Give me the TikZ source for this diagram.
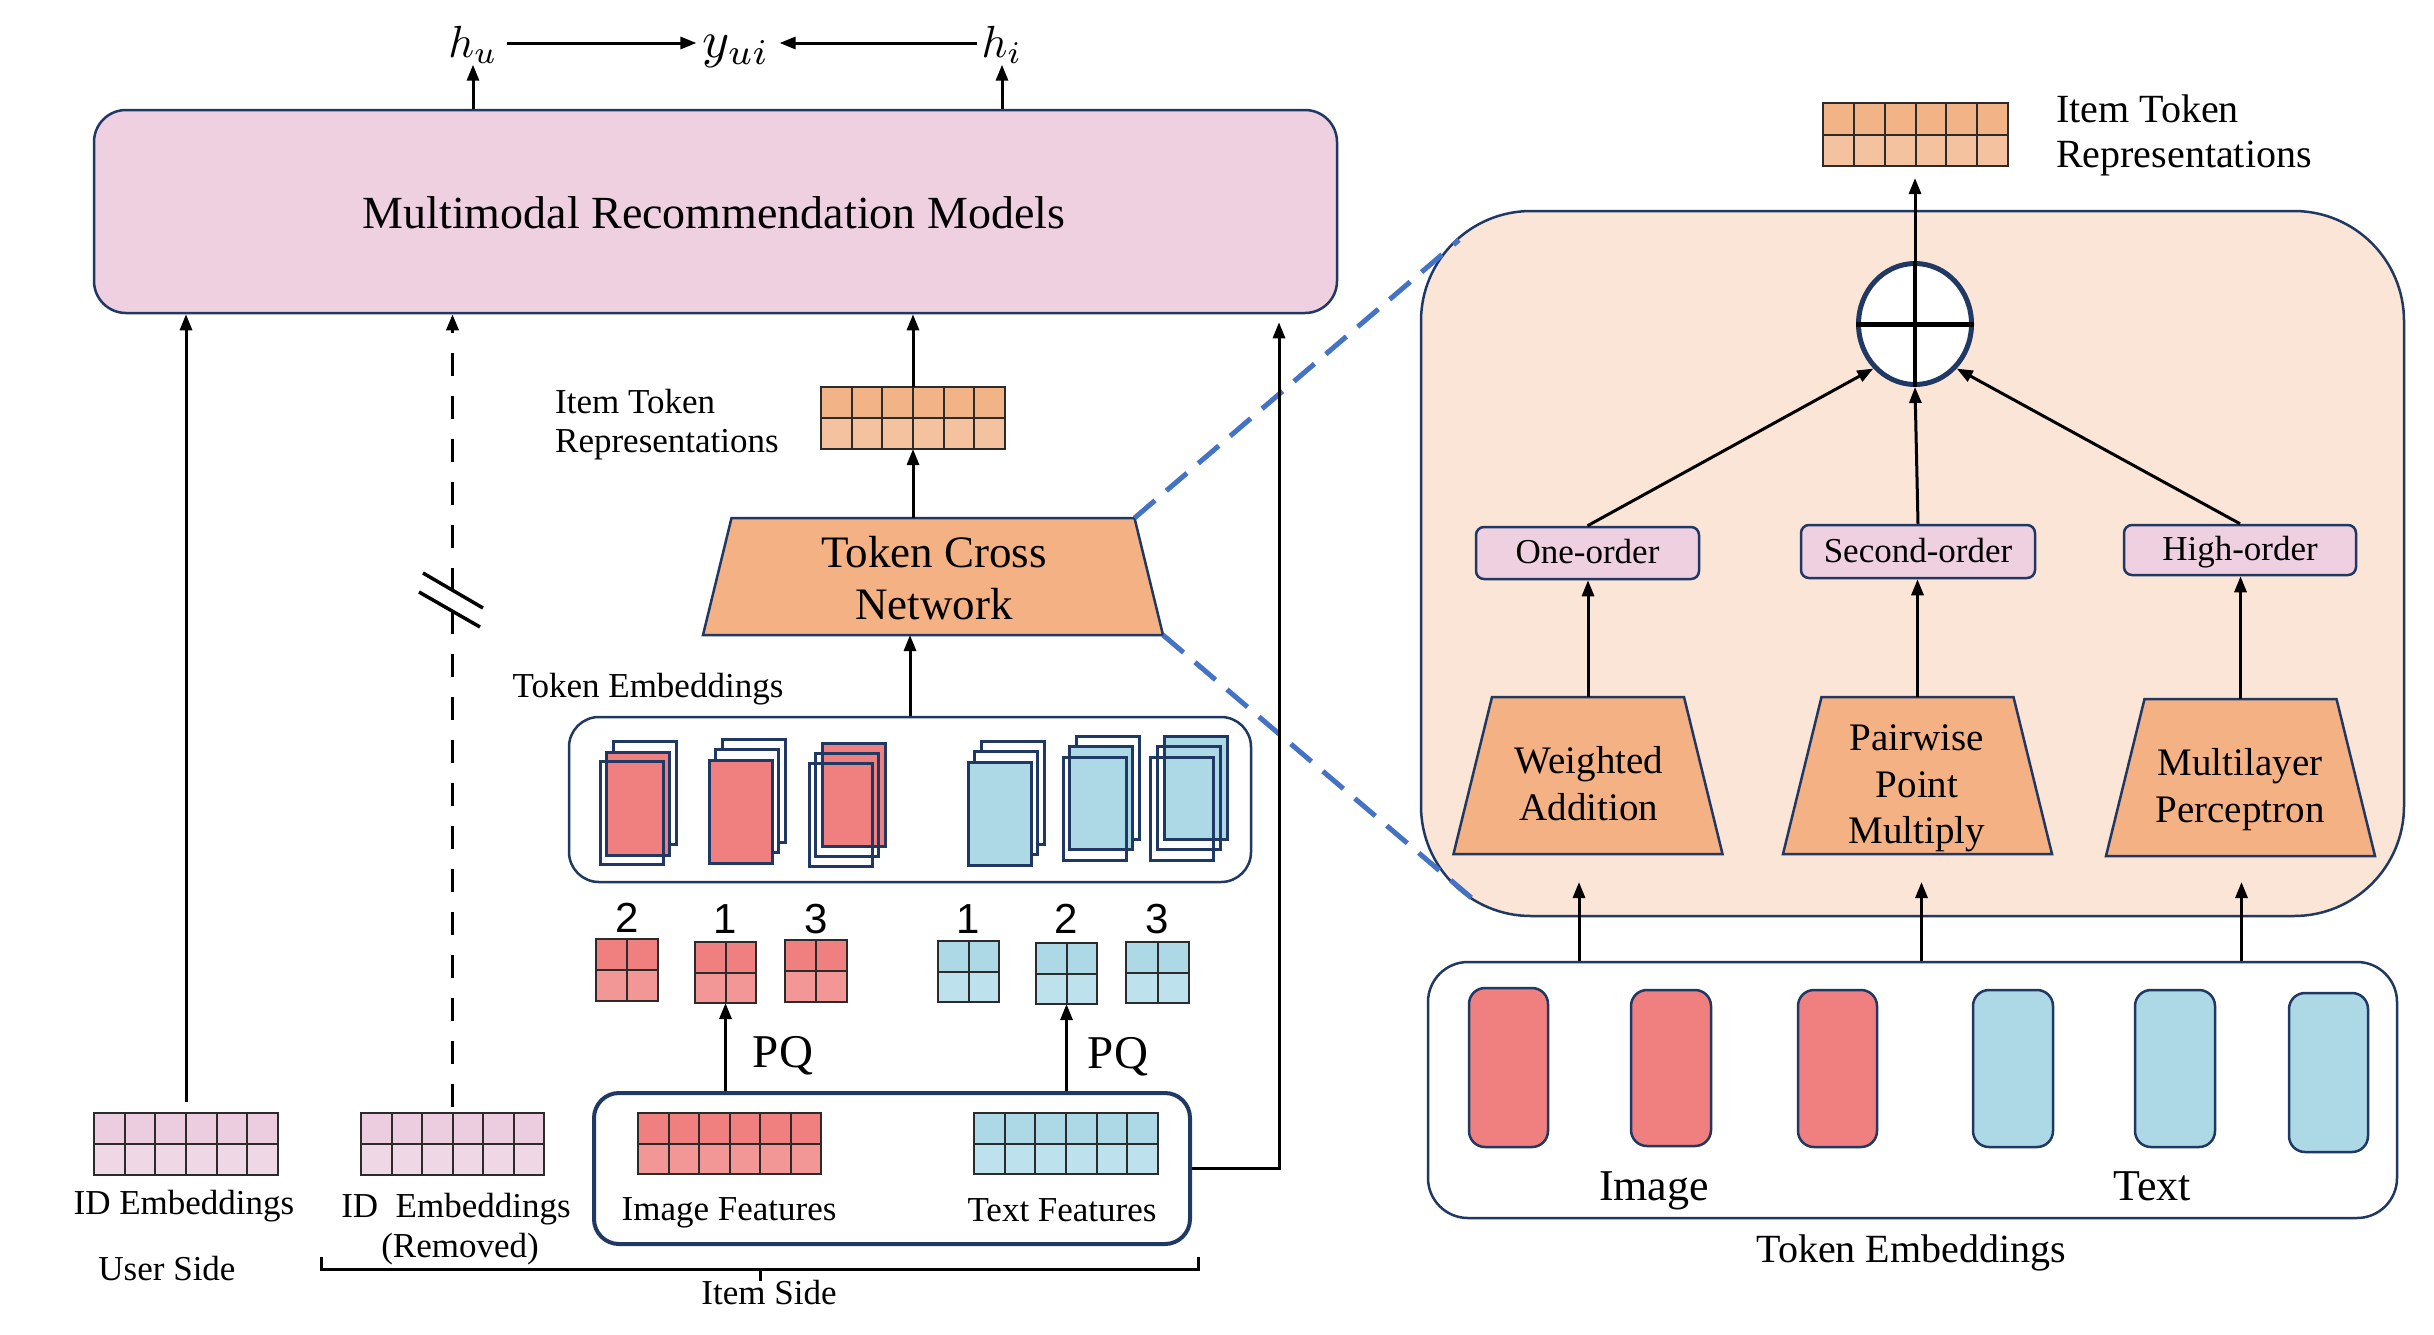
\documentclass[tikz,border=0pt]{standalone}
\usepackage{fontspec}
\setmainfont{Liberation Serif}
\newfontfamily\digitfont{Liberation Sans}
\usetikzlibrary{arrows.meta,calc,fit,shapes.geometric}
\definecolor{navy}{HTML}{1F3864}
\definecolor{pinkbox}{HTML}{EFD0E1}
\definecolor{orangeT}{HTML}{F4B183}
\definecolor{peach}{HTML}{FBE5D6}
\definecolor{redT}{HTML}{F08080}
\definecolor{redL}{HTML}{F29696}
\definecolor{blueT}{HTML}{ADD8E6}
\definecolor{blueL}{HTML}{BDE1ED}
\definecolor{pinkT}{HTML}{ECCDE0}
\definecolor{pinkL}{HTML}{F0D7E6}
\definecolor{orangeG}{HTML}{F2B387}
\definecolor{orangeL}{HTML}{F5C29F}
\definecolor{dashblue}{HTML}{4472C4}
\definecolor{gridc}{HTML}{2B2B2B}
\newcommand\fz[1]{\fontsize{#1}{#1}\selectfont}
\tikzset{
  arr/.style={-{Triangle[length=16pt,width=12pt]}, line width=3pt, black},
  gridline/.style={gridc, line width=2pt},
  boxline/.style={draw=navy, line width=2.5pt},
  cardline/.style={draw=navy, line width=3pt},
  lbl/.style={inner sep=0pt, anchor=base, font=\fz{35}},
  digit/.style={inner sep=0pt, anchor=base, font=\digitfont\fz{42}},
  mathlbl/.style={inner sep=0pt, anchor=base, scale=4.5},
  ordbox/.style={draw=navy, line width=2.5pt, fill=pinkbox, rounded corners=8pt, inner sep=0pt, font=\fz{35}, text height=24pt, text depth=3pt},
  tok/.style={draw=navy, line width=2.5pt, rounded corners=16pt},
}
% six-column, two-row grid
\newcommand\sixgrid[7]{%
  \coordinate (#1-a) at (#2,#3);
  \coordinate (#1-b) at (#4,#5);
  \node[fit=(#1-a)(#1-b), inner sep=0pt, outer sep=0pt] (#1) {};
  \fill[#6] (#1.north west) rectangle (#1.east);
  \fill[#7] (#1.west) rectangle (#1.south east);
  \foreach \k in {1,...,5}{%
    \draw[gridline] ($(#1.north west)!\k/6!(#1.north east)$) -- ($(#1.south west)!\k/6!(#1.south east)$);}
  \draw[gridline] (#1.west) -- (#1.east);
  \draw[gridline] (#1.north west) rectangle (#1.south east);
}
% two-by-two grid
\newcommand\fourgrid[7]{%
  \coordinate (#1-a) at (#2,#3);
  \coordinate (#1-b) at (#4,#5);
  \node[fit=(#1-a)(#1-b), inner sep=0pt, outer sep=0pt] (#1) {};
  \fill[#6] (#1.north west) rectangle (#1.east);
  \fill[#7] (#1.west) rectangle (#1.south east);
  \draw[gridline] (#1.north) -- (#1.south);
  \draw[gridline] (#1.west) -- (#1.east);
  \draw[gridline] (#1.north west) rectangle (#1.south east);
}
\newcommand\card[3]{\draw[cardline,#3] (#1,#2) rectangle ++(63,103);}
% trapezoid: name, cx, ytop, ybot, half top, half bottom
\newcommand\trap[6]{%
  \coordinate (#1-a) at ({#2-#6},#3);
  \coordinate (#1-b) at ({#2+#6},#4);
  \coordinate (#1-tr) at ({#2+#5},#3);
  \coordinate (#1-br) at ({#2+#6},#4);
  \node[fit=(#1-a)(#1-b), inner sep=0pt, outer sep=0pt] (#1) {};
  \draw[boxline, fill=orangeT] ({#2-#6},#4) -- ({#2+#6},#4) -- ({#2+#5},#3) -- ({#2-#5},#3) -- cycle;
}
\begin{document}
\begin{tikzpicture}[x=1pt,y=-1pt]
\useasboundingbox[fill=white] (0,0) rectangle (2434,1334);

% ---------- main model box ----------
\node[boxline, fill=pinkbox, rounded corners=32pt, minimum width=1243pt, minimum height=203pt, inner sep=0pt] (mrm) at (715.5,211.5) {};
\node[lbl, font=\fz{46}] (mrmt) at (714,228) {Multimodal Recommendation Models};

% ---------- top outputs ----------
\node[mathlbl] (hu) at (473,57) {$h_u$};
\node[mathlbl, scale=1.15] (yui) at (736,57) {$y_{ui}$};
\node[mathlbl] (hi) at (1002,57) {$h_i$};
\coordinate (arow) at (0,43);
\draw[arr] ($(hu.east |- arow)+(8,0)$) -- ($(yui.west |- arow)+(-5,0)$);
\draw[arr] ($(hi.west |- arow)+(-4,0)$) -- ($(yui.east |- arow)+(9,0)$);
\draw[arr] (hu.south |- mrm.north) -- (hu.south);
\draw[arr] (hi.south |- mrm.north) -- (hi.south);

% ---------- user side ----------
\sixgrid{uid}{94}{1113}{278}{1175}{pinkT}{pinkL}
\draw[arr, shorten <=11pt] (uid.north) -- (uid.north |- mrm.south);
\node[lbl] (uidt) at (184,1214) {ID Embeddings};
\node[lbl] (usert) at (167,1280) {User Side};

% ---------- removed ID embeddings ----------
\sixgrid{rid}{361}{1113}{544}{1175}{pinkT}{pinkL}
\draw[arr, dash pattern=on 23pt off 20pt, line width=3.5pt, shorten <=6pt] (rid.north) -- (rid.north |- mrm.south);
\coordinate (sl1a) at (423,573); \coordinate (sl1b) at (483,608);
\coordinate (sl2a) at (419,592); \coordinate (sl2b) at (480,627);
\draw[line width=3.5pt] (sl1a) -- (sl1b);
\draw[line width=3.5pt] (sl2a) -- (sl2b);
\node[lbl] (ridt) at (456,1217) {ID\ \ Embeddings};
\node[lbl] (ridr) at (460,1257) {(Removed)};

% ---------- item side brace ----------
\coordinate (brL) at (321,1257); \coordinate (brR) at (1198,1257);
\coordinate (brM) at (760,1269);
\draw[line width=3pt] (brL) -- ++(0,12) -| (brR);
\draw[line width=3pt] (brM) -- ++(0,12);
\node[lbl] (itemt) at (769,1304) {Item Side};

% ---------- item features ----------
\node[draw=navy, line width=4pt, rounded corners=25pt, minimum width=596pt, minimum height=151pt, inner sep=0pt] (ifeat) at (892,1168.5) {};
\sixgrid{imgf}{638}{1113}{821}{1174}{redT}{redL}
\sixgrid{txtf}{974}{1113}{1158}{1174}{blueT}{blueL}
\node[lbl] (imgft) at (729,1220) {Image Features};
\node[lbl] (txtft) at (1062,1221) {Text Features};

% ---------- PQ codes ----------
\fourgrid{rA}{596}{939}{658}{1001}{redT}{redL}
\fourgrid{rB}{695}{942}{756}{1003}{redT}{redL}
\fourgrid{rC}{785}{940}{847}{1002}{redT}{redL}
\fourgrid{bA}{938}{941}{999}{1002}{blueT}{blueL}
\fourgrid{bB}{1036}{943}{1097}{1004}{blueT}{blueL}
\fourgrid{bC}{1126}{942}{1189}{1003}{blueT}{blueL}
\node[digit] (dA) at ($(rA.north)+(0,-7)$) {2};
\node[digit] (dB) at ($(rB.north)+(0,-9)$) {1};
\node[digit] (dC) at ($(rC.north)+(0,-7)$) {3};
\node[digit] (dD) at ($(bA.north)+(0,-8)$) {1};
\node[digit] (dE) at ($(bB.north)+(0,-10)$) {2};
\node[digit] (dF) at ($(bC.north)+(0,-9)$) {3};
\draw[arr] (rB.south |- ifeat.north) -- (rB.south);
\draw[arr] (bB.south |- ifeat.north) -- (bB.south);
\node[lbl, font=\fz{47}] (pq1) at (783,1067) {PQ};
\node[lbl, font=\fz{47}] (pq2) at (1118,1068) {PQ};

% ---------- token embeddings (left) ----------
\node[draw=navy, line width=2.5pt, rounded corners=30pt, minimum width=682pt, minimum height=165pt, inner sep=0pt] (tokL) at (910,799.5) {};
\node[lbl] (tokLt) at (648,697) {Token Embeddings};
\card{613}{741}{fill=white}\card{606}{752}{fill=redT}\card{600}{761}{}
\card{722}{739}{fill=white}\card{715}{749}{fill=white}\card{709}{760}{fill=redT}
\card{822}{743}{fill=redT}\card{815}{753}{}\card{809}{763}{}
\card{981}{741}{fill=white}\card{974}{751}{fill=white}\card{968}{762}{fill=blueT}
\card{1076}{736}{fill=white}\card{1069}{746}{fill=blueT}\card{1063}{757}{}
\card{1164}{736}{fill=blueT}\card{1157}{746}{}\card{1150}{757}{}

% ---------- token cross network ----------
\trap{tcn}{933}{518}{635}{201.5}{230}
\node[lbl, font=\fz{45}] (tcnA) at (934,567) {Token Cross};
\node[lbl, font=\fz{45}] (tcnB) at (934,619) {Network};
\draw[arr] (tokL.north) -- (tokL.north |- tcn.south);

\sixgrid{itrA}{821}{387}{1005}{449}{orangeG}{orangeL}
\draw[arr] (itrA.south |- tcn.north) -- (itrA.south);
\draw[arr] (itrA.north) -- (itrA.north |- mrm.south);
\node[lbl, anchor=base west] (itrAt1) at (555,413) {Item Token};
\node[lbl, anchor=base west] (itrAt2) at (555,452) {Representations};

% ---------- zoomed detail box ----------
\node[boxline, fill=peach, rounded corners=110pt, minimum width=983pt, minimum height=705pt, inner sep=0pt] (big) at (1912.5,563.5) {};
\coordinate (zA) at (1459,240);
\coordinate (zB) at (1481,906);
\draw[dashblue, line width=5pt, dash pattern=on 27pt off 15pt] (tcn-tr) -- (zA);
\draw[dashblue, line width=5pt, dash pattern=on 27pt off 15pt] (tcn-br) -- (zB);

% line from item features up to the model
\coordinate (rl) at (1279,0);
\draw[arr, shorten >=8pt] (ifeat.east) -| (rl |- mrm.south);

% sum node
\node[ellipse, draw=navy, line width=5pt, fill=white, minimum width=113pt, minimum height=121pt, inner sep=0pt] (sum) at (1915,324) {};
\draw[line width=5pt] (sum.west) -- (sum.east);
\draw[line width=4pt] (sum.north) -- (sum.south);

\sixgrid{itrB}{1823}{103}{2008}{166}{orangeG}{orangeL}
\draw[arr, shorten >=12pt] (sum.north) -- (sum.north |- itrB.south);
\node[lbl, anchor=base west, font=\fz{40}] (itrBt1) at (2056,122) {Item Token};
\node[lbl, anchor=base west, font=\fz{40}] (itrBt2) at (2056,167) {Representations};

% order boxes
\node[ordbox, minimum width=223pt, minimum height=52pt] (one) at (1587.5,553) {One-order};
\node[ordbox, minimum width=234pt, minimum height=53pt] (sec) at (1918,551.5) {Second-order};
\node[ordbox, minimum width=232pt, minimum height=50pt] (high) at (2240,550) {High-order};
\draw[arr] (one.north) -- (sum.south west);
\draw[arr] (sec.north) -- (sum.south);
\draw[arr] (high.north) -- (sum.south east);

% operator trapezoids
\trap{wa}{1588}{697}{854}{96}{134.5}
\trap{ppm}{1917.5}{697}{854}{96}{134.5}
\trap{mlp}{2240.5}{699}{856}{96}{134.5}
\node[lbl, font=\fz{39}] (waA) at (1589,773) {Weighted};
\node[lbl, font=\fz{39}] (waB) at (1589,820) {Addition};
\node[lbl, font=\fz{39}] (ppmA) at (1917,750) {Pairwise};
\node[lbl, font=\fz{39}] (ppmB) at (1917,797) {Point};
\node[lbl, font=\fz{39}] (ppmC) at (1917,843) {Multiply};
\node[lbl, font=\fz{39}] (mlpA) at (2240,775) {Multilayer};
\node[lbl, font=\fz{39}] (mlpB) at (2240,822) {Perceptron};
\draw[arr] (wa.north) -- (wa.north |- one.south);
\draw[arr] (ppm.north) -- (ppm.north |- sec.south);
\draw[arr] (mlp.north) -- (mlp.north |- high.south);

% bottom token embeddings (right)
\node[draw=navy, line width=2.5pt, rounded corners=40pt, minimum width=969pt, minimum height=256pt, inner sep=0pt] (tokR) at (1912.5,1090) {};
\draw[tok, fill=redT] (1469,988) rectangle (1548,1147);
\draw[tok, fill=redT] (1631,990) rectangle (1711,1146);
\draw[tok, fill=redT] (1798,990) rectangle (1877,1147);
\draw[tok, fill=blueT] (1973,990) rectangle (2053,1147);
\draw[tok, fill=blueT] (2135,990) rectangle (2215,1147);
\draw[tok, fill=blueT] (2289,993) rectangle (2368,1152);
\node[lbl, font=\fz{44}] (imgt) at (1654,1200) {Image};
\node[lbl, font=\fz{44}] (txtt) at (2152,1200) {Text};
\node[lbl, font=\fz{40}] (tokRt) at (1911,1262) {Token Embeddings};
\coordinate (ta) at ($(wa.south)+(-9,28)$);
\coordinate (tb) at ($(ppm.south)+(4,28)$);
\coordinate (tc) at ($(mlp.south)+(1,26)$);
\draw[arr] (tokR.north -| ta) -- (ta);
\draw[arr] (tokR.north -| tb) -- (tb);
\draw[arr] (tokR.north -| tc) -- (tc);
\end{tikzpicture}
\end{document}
